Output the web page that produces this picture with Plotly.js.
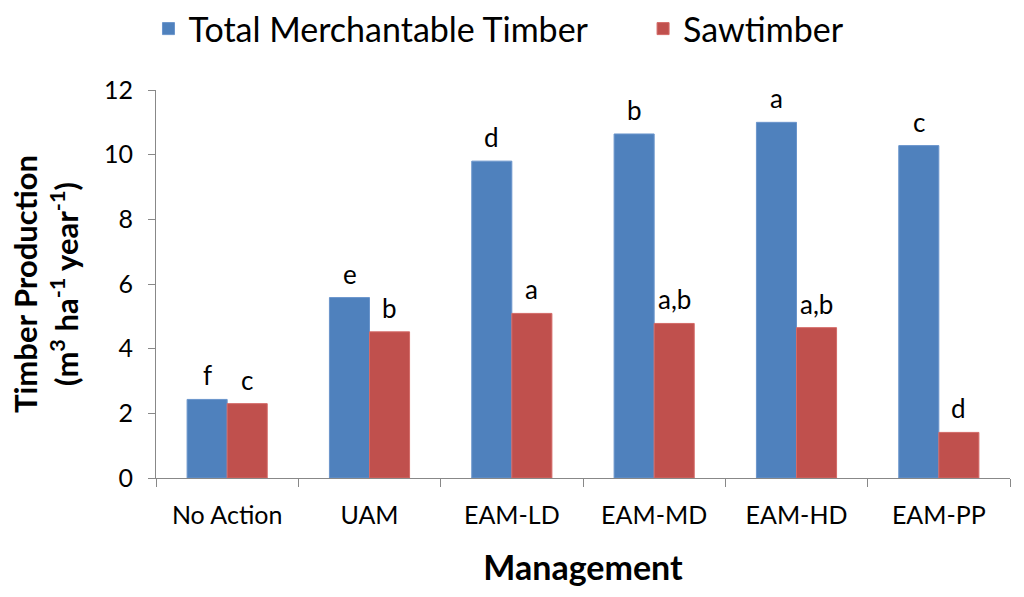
<!DOCTYPE html>
<html>
<head>
<meta charset="utf-8">
<script src="https://cdn.plot.ly/plotly-3.0.1.min.js"></script>
<style>html,body{margin:0;padding:0;background:#fff;}#chart{width:1024px;height:597px;}</style>
</head>
<body>
<div id="chart"></div>
<script>
const categories = ["No Action", "UAM", "EAM-LD", "EAM-MD", "EAM-HD", "EAM-PP"];
const totalMerch = [2.43, 5.58, 9.80, 10.64, 11.00, 10.28];
const sawtimber = [2.30, 4.52, 5.09, 4.78, 4.65, 1.41];
const totalLetters = ["f", "e", "d", "b", "a", "c"];
const sawLetters = ["c", "b", "a", "a,b", "a,b", "d"];
const yTicks = [0, 2, 4, 6, 8, 10, 12];

const FONT = "Lato, 'Open Sans', sans-serif";

const traces = [
  {type: "bar", name: "Total Merchantable Timber", x: categories, y: totalMerch, legend: "legend",
   marker: {color: "#4F81BD", line: {color: "#6A95CC", width: 1}}},
  {type: "bar", name: "Sawtimber", x: categories, y: sawtimber, legend: "legend2",
   marker: {color: "#C0504D", line: {color: "#D46A67", width: 1}}}
];

const annotations = [];
categories.forEach((c, i) => {
  annotations.push({x: c, y: totalMerch[i], text: totalLetters[i], showarrow: false,
    xref: "x", yref: "y", yanchor: "bottom", xshift: -20, yshift: 6,
    font: {family: FONT, size: 26, color: "#000"}});
  annotations.push({x: c, y: sawtimber[i], text: sawLetters[i], showarrow: false,
    xref: "x", yref: "y", yanchor: "bottom", xshift: 20, yshift: 6,
    font: {family: FONT, size: 26, color: "#000"}});
});

const legendFont = {family: FONT, size: 34, color: "#000"};

const layout = {
  width: 1024, height: 597,
  margin: {l: 156, r: 14, t: 90, b: 119},
  paper_bgcolor: "#fff", plot_bgcolor: "#fff",
  barmode: "group", bargap: 0.437, bargroupgap: 0,
  font: {family: FONT, color: "#000"},
  showlegend: true,
  legend: {orientation: "h", x: 0.145, xref: "container", xanchor: "left", y: 1, yref: "container", yanchor: "top",
    font: legendFont, itemwidth: 30},
  legend2: {orientation: "h", x: 0.628, xref: "container", xanchor: "left", y: 1, yref: "container", yanchor: "top",
    font: legendFont, itemwidth: 30},
  xaxis: {
    type: "category", tickson: "boundaries", ticks: "outside", ticklen: 8, tickcolor: "#888",
    showline: true, linecolor: "#888", linewidth: 1, showgrid: false, zeroline: false,
    ticklabelstandoff: 15,
    tickfont: {family: FONT, size: 25, color: "#000"},
    title: {text: "<b>Management</b>", font: {family: FONT, size: 34, color: "#000"}, standoff: 28}
  },
  yaxis: {
    range: [0, 12], tickvals: yTicks, ticks: "outside", ticklen: 7, tickcolor: "#888",
    showline: true, linecolor: "#888", linewidth: 1, showgrid: false, zeroline: false,
    ticklabelstandoff: 10,
    tickfont: {family: FONT, size: 25, color: "#000"},
    title: {text: "<b>Timber Production<br>(m<sup>3</sup> ha<sup>-1</sup> year<sup>-1</sup>)</b>",
      font: {family: FONT, size: 31, color: "#000"}, standoff: 16}
  },
  annotations: annotations
};

Plotly.newPlot("chart", traces, layout, {displayModeBar: false, staticPlot: true});
</script>
</body>
</html>
